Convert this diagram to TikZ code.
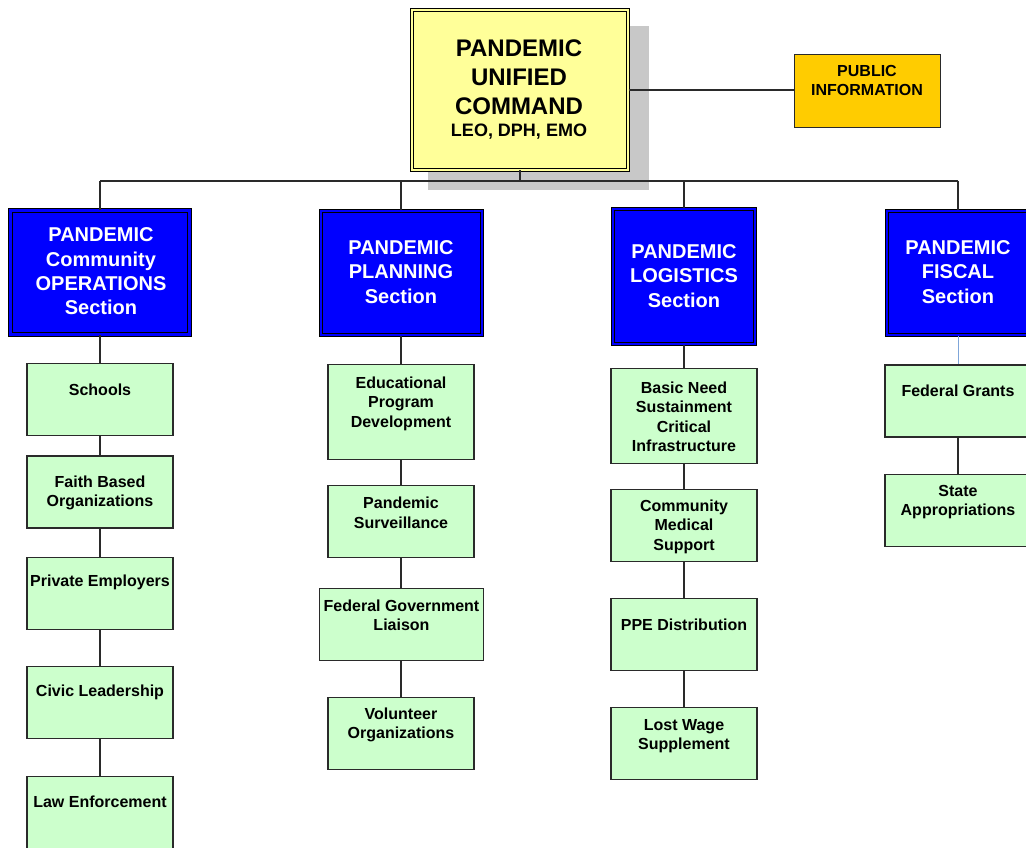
\documentclass[tikz,border=0pt]{standalone}
\usepackage{fontspec}
\setmainfont{Liberation Sans}
\definecolor{cmdyellow}{HTML}{FFFF99}
\definecolor{secblue}{HTML}{0000FF}
\definecolor{subgreen}{HTML}{CCFFCC}
\definecolor{piorange}{HTML}{FFCC00}
\definecolor{shadowgray}{HTML}{C8C8C8}
\definecolor{linegray}{HTML}{2A2A2A}
\definecolor{lineblue}{HTML}{7FA6D9}
\begin{document}
\begin{tikzpicture}[x=1pt,y=-1pt,
  conn/.style={draw=linegray, line width=1.3pt},
  cmdbox/.style={draw=black, line width=1pt, double=cmdyellow, double distance=2.6pt, fill=cmdyellow, inner sep=0pt},
  secbox/.style={draw=black, line width=1.1pt, double=secblue, double distance=2.4pt, fill=secblue, inner sep=0pt, minimum height=124pt},
  subbox/.style={draw=linegray, line width=1.4pt, fill=subgreen, inner sep=0pt, minimum width=146pt, minimum height=72pt},
  pibox/.style={draw=linegray, line width=1.3pt, fill=piorange, inner sep=0pt, minimum width=146pt, minimum height=73pt},
  subtxt/.style={align=center, inner sep=0pt, font=\bfseries\fontsize{16}{19.5}\selectfont},
  sectxt/.style={align=center, inner sep=0pt, text=white, font=\bfseries\fontsize{20}{24.3}\selectfont},
]
\clip (0,0) rectangle (1026,848);
\fill[white] (0,0) rectangle (1026,848);
% shadow
\fill[shadowgray] (428,26) rectangle (649,190);

% bus coordinates
\coordinate (bc) at (520,181);
\coordinate (b1) at (100,181);
\coordinate (b2) at (401,181);
\coordinate (b3) at (684,181);
\coordinate (b4) at (958,181);

% command
\node[cmdbox, minimum width=216pt, minimum height=160pt] (cmd) at (520,90) {};
\node[align=center, inner sep=0pt, font=\bfseries\fontsize{24}{29}\selectfont] (cmdt) at (519,77) {PANDEMIC\\UNIFIED\\COMMAND};
\node[inner sep=0pt, font=\bfseries\fontsize{18}{22}\selectfont] (cmds) at (519,132) {LEO, DPH, EMO};

% public information
\node[pibox] (pi) at (867.5,91) {};
\node[align=center, inner sep=0pt, font=\bfseries\fontsize{16}{19.5}\selectfont] (pit) at (867,80.5) {PUBLIC\\INFORMATION};

% sections
\node[secbox, minimum width=179pt] (ops) at (100,272.5) {};
\node[sectxt] (opst) at (101,271.5) {PANDEMIC\\Community\\OPERATIONS\\Section};
\node[secbox, minimum width=161pt] (plan) at (401.5,273) {};
\node[sectxt] (plant) at (401,272) {PANDEMIC\\PLANNING\\Section};
\node[secbox, minimum width=142pt, minimum height=135pt] (log) at (684,276.5) {};
\node[sectxt] (logt) at (684,276) {PANDEMIC\\LOGISTICS\\Section};
\node[secbox, minimum width=142pt] (fis) at (958,273) {};
\node[sectxt] (fist) at (958,272) {PANDEMIC\\FISCAL\\Section};

% column 1
\node[subbox] (s11) at (100,399.5) {};
\node[subtxt] (t11) at (100,389.5) {Schools};
\node[subbox] (s12) at (100,492) {};
\node[subtxt] (t12) at (100,493) {Faith Based\\Organizations};
\node[subbox] (s13) at (100,593.5) {};
\node[subtxt] (t13) at (100,582.5) {Private Employers};
\node[subbox] (s14) at (100,702.5) {};
\node[subtxt] (t14) at (100,692.5) {Civic Leadership};
\node[subbox] (s15) at (100,812.5) {};
\node[subtxt] (t15) at (100,801.5) {Law Enforcement};

% column 2
\node[subbox, minimum height=95pt] (s21) at (401,412) {};
\node[subtxt] (t21) at (401,403.5) {Educational\\Program\\Development};
\node[subbox] (s22) at (401,521.5) {};
\node[subtxt] (t22) at (401,513) {Pandemic\\Surveillance};
\node[subbox, minimum width=164pt] (s23) at (401.5,624.5) {};
\node[subtxt] (t23) at (401.5,615.5) {Federal Government\\Liaison};
\node[subbox] (s24) at (401,733.5) {};
\node[subtxt] (t24) at (401,725) {Volunteer\\Organizations};

% column 3
\node[subbox, minimum height=95pt] (s31) at (684,416) {};
\node[subtxt] (t31) at (684,417) {Basic Need\\Sustainment\\Critical\\Infrastructure};
\node[subbox] (s32) at (684,525.5) {};
\node[subtxt] (t32) at (684,526.5) {Community\\Medical\\Support};
\node[subbox] (s33) at (684,634.5) {};
\node[subtxt] (t33) at (684,624.5) {PPE Distribution};
\node[subbox] (s34) at (684,743.5) {};
\node[subtxt] (t34) at (684,736) {Lost Wage\\Supplement};

% column 4
\node[subbox] (s41) at (958,401) {};
\node[subtxt] (t41) at (958,390.5) {Federal Grants};
\node[subbox] (s42) at (958,510.3) {};
\node[subtxt] (t42) at (958,502) {State\\Appropriations};

% connectors
\draw[conn] (cmd.south) -- (bc);
\draw[conn] (b1) -- (b4);
\draw[conn] (cmd.east) -- (cmd.east -| pi.west);
\draw[conn] (b1) -- (b1 |- ops.north);
\draw[conn] (b2) -- (b2 |- plan.north);
\draw[conn] (b3) -- (b3 |- log.north);
\draw[conn] (b4) -- (b4 |- fis.north);
\draw[conn] (ops.south -| s11.north) -- (s11.north);
\draw[conn] (s11.south) -- (s12.north);
\draw[conn] (s12.south) -- (s13.north);
\draw[conn] (s13.south) -- (s14.north);
\draw[conn] (s14.south) -- (s15.north);
\draw[conn] (plan.south -| s21.north) -- (s21.north);
\draw[conn] (s21.south) -- (s22.north);
\draw[conn] (s22.south) -- (s22.south |- s23.north);
\draw[conn] (s23.south -| s24.north) -- (s24.north);
\draw[conn] (log.south) -- (s31.north);
\draw[conn] (s31.south) -- (s32.north);
\draw[conn] (s32.south) -- (s33.north);
\draw[conn] (s33.south) -- (s34.north);
\draw[conn, draw=lineblue, line width=1pt] (fis.south) -- (s41.north);
\draw[conn] (s41.south) -- (s42.north);
\end{tikzpicture}
\end{document}
